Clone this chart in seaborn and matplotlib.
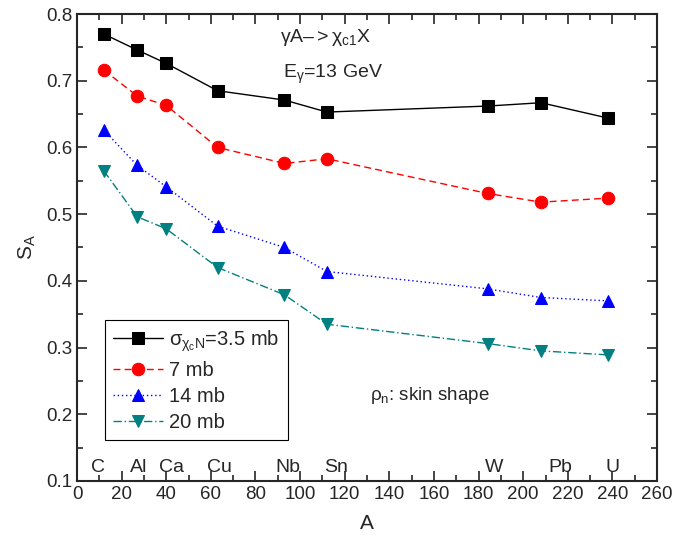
import matplotlib
matplotlib.use("Agg")
import matplotlib.pyplot as plt
import seaborn as sns
import pandas as pd
from matplotlib.ticker import MultipleLocator

A_values = [12, 27, 40, 63, 93, 112, 184, 208, 238]
elements = ["C", "Al", "Ca", "Cu", "Nb", "Sn", "W", "Pb", "U"]
label_x = [9.5, 27.5, 42.5, 64, 94.5, 116, 187, 216.5, 240]
s_35 = [0.770, 0.746, 0.726, 0.685, 0.671, 0.653, 0.662, 0.667, 0.644]
s_7 = [0.716, 0.677, 0.663, 0.600, 0.576, 0.583, 0.531, 0.518, 0.524]
s_14 = [0.626, 0.573, 0.541, 0.482, 0.450, 0.414, 0.388, 0.375, 0.370]
s_20 = [0.565, 0.496, 0.478, 0.420, 0.379, 0.335, 0.306, 0.295, 0.289]
series_names = [r"$\sigma_{\chi_c N}$=3.5 mb", "7 mb", "14 mb", "20 mb"]

rows = []
for name, vals in zip(series_names, [s_35, s_7, s_14, s_20]):
    for a, v in zip(A_values, vals):
        rows.append({"A": a, "S": v, "series": name})
df = pd.DataFrame(rows)

sns.set_style("ticks")
plt.rcParams["font.family"] = ["Liberation Sans", "DejaVu Sans"]
plt.rcParams["mathtext.fontset"] = "custom"
plt.rcParams["mathtext.rm"] = "Liberation Sans"
plt.rcParams["mathtext.it"] = "Liberation Sans"
plt.rcParams["mathtext.sf"] = "Liberation Sans"

fig = plt.figure(figsize=(6.78, 5.47), dpi=100)
ax = fig.add_axes([0.1136, 0.1207, 0.8555, 0.8537])

colors = ["black", "red", "blue", "#008080"]
markers = ["s", "o", "^", "v"]
styles = ["-", (0, (5, 3)), (0, (1, 2)), (0, (6, 2, 1, 2))]

for name, c, m, ls in zip(series_names, colors, markers, styles):
    sub = df[df["series"] == name]
    sns.lineplot(data=sub, x="A", y="S", ax=ax, color=c, marker=m, markersize=9,
                 markeredgecolor=c, linestyle=ls, linewidth=1.0, label=name,
                 estimator=None, sort=False)

ax.set_xlim(0, 260)
ax.set_ylim(0.1, 0.8)
ax.xaxis.set_major_locator(MultipleLocator(20))
ax.xaxis.set_minor_locator(MultipleLocator(10))
ax.yaxis.set_major_locator(MultipleLocator(0.1))
ax.yaxis.set_minor_locator(MultipleLocator(0.05))
ax.tick_params(which="both", direction="in", top=True, right=True, labelsize=13.5,
               width=1.2)
ax.tick_params(which="major", length=7)
ax.tick_params(which="minor", length=4)
for sp in ax.spines.values():
    sp.set_linewidth(1.5)
ax.set_xlabel("A", fontsize=15, labelpad=8)
ax.set_ylabel(r"S$_\mathregular{A}$", fontsize=15, labelpad=6)

for lx, el in zip(label_x, elements):
    ax.text(lx, 0.107, el, fontsize=14, ha="center", va="bottom")

ax.text(0.35, 0.949, r"$\gamma$A$\mathregular{–>}\chi_{c1}$X", transform=ax.transAxes,
        fontsize=14, ha="left", va="center")
ax.text(0.355, 0.87, r"E$_\gamma$=13 GeV", transform=ax.transAxes,
        fontsize=14, ha="left", va="center")
ax.text(0.505, 0.184, r"$\rho_n$: skin shape", transform=ax.transAxes,
        fontsize=13.5, ha="left", va="center")

leg = ax.legend(loc="lower left", bbox_to_anchor=(0.048, 0.088), fontsize=14.5,
                frameon=True, fancybox=False, edgecolor="black", framealpha=1,
                handlelength=2.5, handletextpad=0.3, borderpad=0.4,
                labelspacing=0.35, borderaxespad=0)
leg.get_frame().set_linewidth(0.8)

fig.savefig("out.png", dpi=100)
